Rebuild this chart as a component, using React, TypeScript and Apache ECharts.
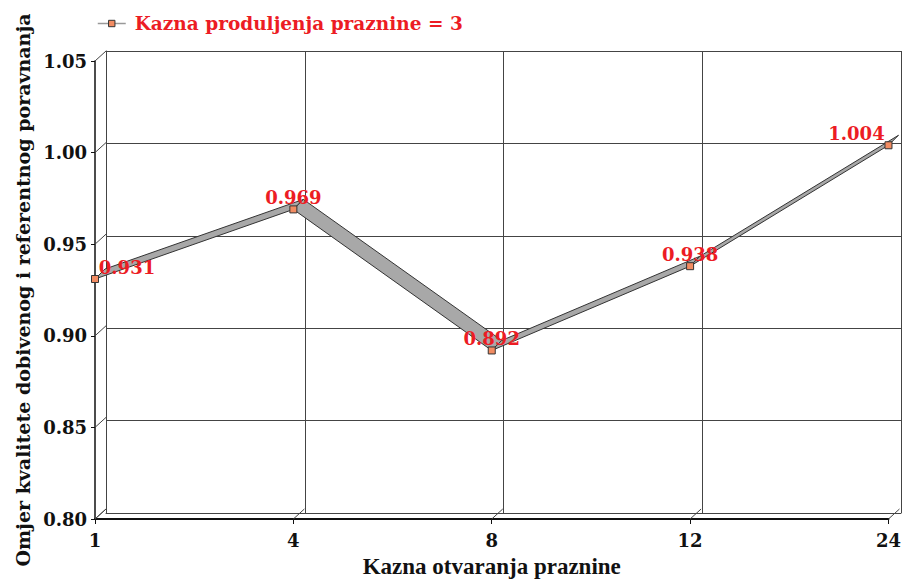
import React, { useEffect, useRef } from "react";
import * as echarts from "echarts";

const categories = ["1", "4", "8", "12", "24"];
const values = [0.931, 0.969, 0.892, 0.938, 1.004];
const yTicks = [0.8, 0.85, 0.9, 0.95, 1.0, 1.05];
const seriesName = "Kazna produljenja praznine = 3";
const xTitle = "Kazna otvaranja praznine";
const yTitle = "Omjer kvalitete dobivenog i referentnog poravnanja";

const DX = 11;
const DY = -10;
const RDX = 10;
const RDY = -10;
const SERIF = "'DejaVu Serif', serif";
const RED = "#ec1c24";
const MARKER = "#f28c62";

export default function App() {
  const ref = useRef<HTMLDivElement>(null);
  useEffect(() => {
    if (!ref.current) return;
    const chart = echarts.init(ref.current, null, { renderer: "svg" });
    const n = values.length;
    const depthPts: number[][] = [];
    yTicks.forEach((v) => depthPts.push([0, v]));
    categories.forEach((_, i) => depthPts.push([i, yTicks[0]]));

    const option: any = {
      animation: false,
      legend: {
        data: [seriesName],
        left: 92,
        top: 9,
        itemWidth: 28,
        itemHeight: 8,
        lineStyle: { color: "#999", width: 1.5, opacity: 1 },
        itemStyle: { color: MARKER, borderColor: "#333", borderWidth: 1 },
        textStyle: {
          color: RED,
          fontFamily: SERIF,
          fontWeight: "bold",
          fontSize: 18.5,
          padding: [0, 0, 0, 4],
        },
      },
      grid: [
        { left: 95, right: 14, top: 61, bottom: 60 },
        { left: 95 + DX, right: 14 - DX, top: 61 + DY, bottom: 60 - DY },
      ],
      xAxis: [
        {
          gridIndex: 0,
          type: "category",
          data: categories,
          boundaryGap: false,
          name: xTitle,
          nameLocation: "middle",
          nameGap: 36,
          nameTextStyle: {
            fontFamily: "'Liberation Serif', serif",
            fontWeight: "bold",
            fontSize: 23,
            color: "#111",
          },
          axisLine: { show: true, lineStyle: { color: "#111", width: 2 } },
          axisTick: { show: true, length: 5, lineStyle: { color: "#111" } },
          axisLabel: {
            margin: 12,
            fontFamily: SERIF,
            fontWeight: "bold",
            fontSize: 18,
            color: "#111",
          },
          splitLine: { show: false },
        },
        {
          gridIndex: 1,
          type: "category",
          data: categories,
          boundaryGap: false,
          axisLine: { show: true, lineStyle: { color: "#444", width: 1 } },
          axisTick: { show: false },
          axisLabel: { show: false },
          splitLine: { show: true, lineStyle: { color: "#444", width: 1 } },
        },
      ],
      yAxis: [
        {
          gridIndex: 0,
          type: "value",
          min: 0.8,
          max: 1.05,
          interval: 0.05,
          name: yTitle,
          nameLocation: "middle",
          nameRotate: 90,
          nameGap: 62,
          nameTextStyle: {
            fontFamily: SERIF,
            fontWeight: "bold",
            fontSize: 19,
            color: "#111",
          },
          axisLine: { show: true, lineStyle: { color: "#111", width: 1.5 } },
          axisTick: { show: true, length: 4, lineStyle: { color: "#111" } },
          axisLabel: {
            margin: 8,
            formatter: (v: number) => v.toFixed(2),
            fontFamily: SERIF,
            fontWeight: "bold",
            fontSize: 18,
            color: "#111",
          },
          splitLine: { show: false },
        },
        {
          gridIndex: 1,
          type: "value",
          min: 0.8,
          max: 1.05,
          interval: 0.05,
          axisLine: { show: true, lineStyle: { color: "#444", width: 1 } },
          axisTick: { show: false },
          axisLabel: { show: false },
          splitLine: { show: true, lineStyle: { color: "#444", width: 1 } },
        },
      ],
      series: [
        {
          type: "custom",
          xAxisIndex: 0,
          yAxisIndex: 0,
          silent: true,
          z: 1,
          data: depthPts,
          renderItem: (params: any, api: any) => {
            const p = api.coord([api.value(0), api.value(1)]);
            return {
              type: "line",
              shape: { x1: p[0], y1: p[1], x2: p[0] + DX, y2: p[1] + DY },
              style: { stroke: "#444", lineWidth: 1 },
            };
          },
        },
        {
          type: "custom",
          xAxisIndex: 0,
          yAxisIndex: 0,
          silent: true,
          z: 3,
          data: values.map((v, i) => [i, v]),
          renderItem: (params: any, api: any) => {
            const i = params.dataIndex;
            if (i >= n - 1) return { type: "group", children: [] };
            const p0 = api.coord([i, values[i]]);
            const p1 = api.coord([i + 1, values[i + 1]]);
            return {
              type: "polygon",
              shape: {
                points: [
                  [p0[0], p0[1]],
                  [p1[0], p1[1]],
                  [p1[0] + RDX, p1[1] + RDY],
                  [p0[0] + RDX, p0[1] + RDY],
                ],
              },
              style: { fill: "#a8a8a8", stroke: "#333", lineWidth: 1 },
            };
          },
        },
        {
          name: seriesName,
          type: "line",
          xAxisIndex: 0,
          yAxisIndex: 0,
          z: 5,
          symbol: "rect",
          symbolSize: 7,
          itemStyle: { color: MARKER, borderColor: "#333", borderWidth: 1 },
          lineStyle: { opacity: 0, color: "#999" },
          data: values.map((v, i) => ({
            value: v,
            label: {
              offset: i === 0 ? [32, 4] : i === n - 1 ? [-32, 4] : [0, 4],
            },
          })),
          label: {
            show: true,
            position: "top",
            distance: 3,
            formatter: (p: any) => Number(p.value).toFixed(3),
            color: RED,
            fontFamily: SERIF,
            fontWeight: "bold",
            fontSize: 18,
          },
        },
      ],
    };
    chart.setOption(option);
    return () => chart.dispose();
  }, []);
  return (
    <div
      ref={ref}
      style={{ position: "absolute", left: 0, top: 0, width: 904, height: 583, background: "#fff" }}
    />
  );
}
